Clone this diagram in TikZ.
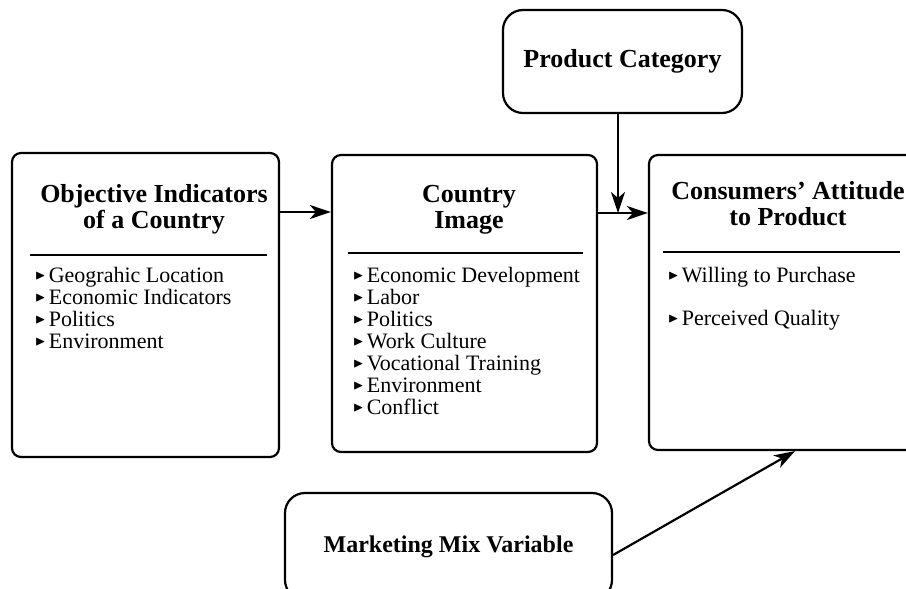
\documentclass[tikz,border=0pt]{standalone}
\usepackage{amssymb}
\usepackage{fontspec}
\setmainfont{Liberation Serif}
\usetikzlibrary{arrows.meta}

% small filled triangle in front of each list entry
\newcommand{\pointer}{\raisebox{2.5pt}{\scalebox{0.62}{$\blacktriangleright$}}\hspace{3pt}}

\tikzset{
	panel/.style={draw, line width=2.2pt, rounded corners=9pt, inner sep=0pt},
	oval/.style={draw, line width=2.2pt, rounded corners=20pt, inner sep=0pt, font=\fontsize{26}{26}\selectfont\bfseries},
	heading/.style={font=\fontsize{26}{26}\selectfont\bfseries, align=center, inner sep=0pt, anchor=base},
	items/.style={font=\fontsize{22}{22}\selectfont, align=left, inner sep=0pt, anchor=base west},
	divider/.style={line width=2.2pt},
	flow/.style={line width=2.2pt, -{Stealth[length=21pt,width=14pt,inset=6pt]}}
}

\begin{document}
\begin{tikzpicture}[x=1pt,y=1pt]
	\useasboundingbox (0,0) rectangle (906,-589);
	\clip (0,0) rectangle (906,-589);
	% the three main boxes
	\node [panel, minimum width=267pt, minimum height=304pt] (obj) at (145.5,-305) {};
	\node [panel, minimum width=265pt, minimum height=297pt] (img) at (464.5,-303.5) {};
	\node [panel, minimum width=272pt, minimum height=295pt] (att) at (785,-302.5) {};
	% outside factors
	\node [oval, minimum width=239pt, minimum height=103pt] (prod) at (622.5,-61.5) {Product Category};
	\node [oval, minimum width=327pt, minimum height=107pt, font=\fontsize{24}{24}\selectfont\bfseries] (mkt) at (448.5,-546.5) {Marketing Mix Variable};
	% headings (base = last line)
	\node [heading] (objhead) at (154,-228) {Objective Indicators\\of a Country};
	\node [heading] (imghead) at (469,-228) {Country\\Image};
	\node [heading] (atthead) at (788,-225) {Consumers' Attitude\\to Product};
	\draw [divider] (30,-255) -- (267,-255);
	\draw [divider] (348,-253) -- (583,-253);
	\draw [divider] (663,-252) -- (900,-252);
	% lists (base = last line)
	\node [items] (objlist) at (35,-348) {\pointer Geograhic Location\\\pointer Economic Indicators\\\pointer Politics\\\pointer Environment};
	\node [items] (imglist) at (353,-414) {\pointer Economic Development\\\pointer Labor\\\pointer Politics\\\pointer Work Culture\\\pointer Vocational Training\\\pointer Environment\\\pointer Conflict};
	\node [items] (attlist) at (668,-325) {\pointer Willing to Purchase\\[21pt]\pointer Perceived Quality};
	% arrows
	\coordinate (join) at (618,-213);
	\draw [flow] (obj.east |- 0,-212) -- (img.west |- 0,-212);
	\draw [flow] (prod.south -| join) -- (join);
	\draw [flow] (img.east |- join) -- (att.west |- join);
	\draw [flow] (mkt.east |- 0,-555) -- (att.south -| 795,0);
\end{tikzpicture}
\end{document}
